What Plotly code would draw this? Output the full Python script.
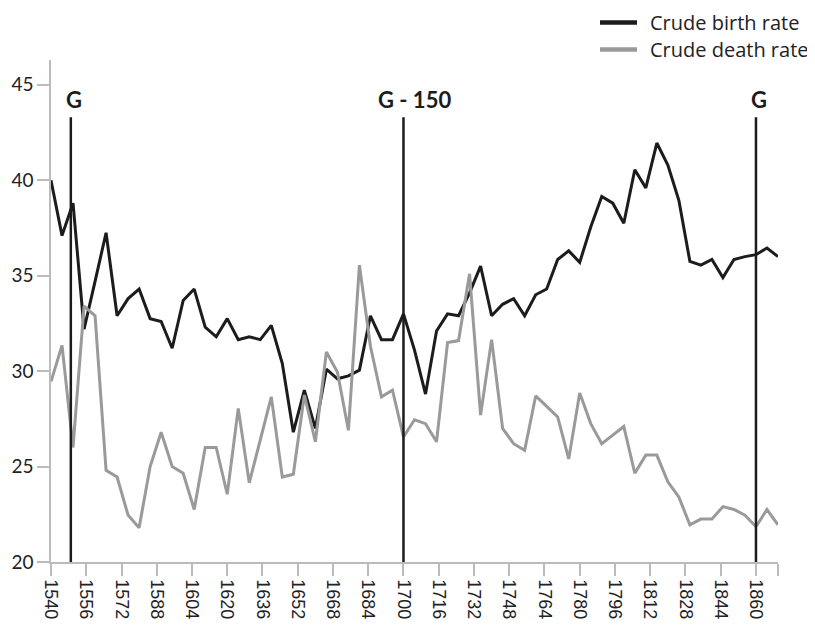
import plotly.graph_objects as go

# Years (5-year intervals)
years = list(range(1540, 1871, 5))

crude_birth_rate = [
    40.0, 37.1, 38.8, 32.2, 34.7, 37.25, 32.9, 33.8, 34.3, 32.75, 32.6, 31.2, 33.7, 34.3,
    32.3, 31.8, 32.75, 31.65, 31.8, 31.65, 32.4,
    30.4, 26.8, 29.0, 27.0, 30.1, 29.6, 29.75, 30.05, 32.9, 31.65, 31.65, 33.0,
    31.1, 28.8, 32.1, 33.0, 32.9, 34.1, 35.5, 32.9, 33.5, 33.8,
    32.9, 34.0, 34.3, 35.85, 36.3, 35.7, 37.55, 39.15, 38.8, 37.75, 40.55, 39.6, 41.95,
    40.8, 38.95, 35.75, 35.55, 35.85, 34.9, 35.85, 36.0, 36.1, 36.45, 36.0,
]

crude_death_rate = [
    29.45, 31.35, 26.0, 33.4, 32.9, 24.8, 24.45, 22.45, 21.8, 25.0, 26.8, 25.0, 24.65, 22.75,
    26.0, 26.0, 23.55, 28.05, 24.15, 26.4, 28.65,
    24.45, 24.6, 28.75, 26.3, 31.0, 29.95, 26.9, 35.55, 31.3, 28.65, 29.0, 26.55,
    27.45, 27.25, 26.3, 31.5, 31.6, 35.1, 27.7, 31.65, 27.0, 26.2,
    25.85, 28.7, 28.15, 27.6, 25.4, 28.85, 27.25, 26.2, 26.65, 27.1, 24.65, 25.6, 25.6,
    24.2, 23.4, 21.95, 22.25, 22.25, 22.9, 22.75, 22.45, 21.85, 22.75, 21.95,
]

series_names = ["Crude birth rate", "Crude death rate"]
series_colors = ["#1c1c1c", "#9a9a9a"]

# Marker lines
marker_years = [1549, 1700, 1860]
marker_labels = ["G", "G - 150", "G"]
marker_top = 43.3
label_y = 44.25

# Axis ticks
x_tickvals = list(range(1540, 1861, 16)) + [1870]
x_ticktext = [str(v) for v in range(1540, 1861, 16)] + [""]
y_tickvals = [20, 25, 30, 35, 40, 45]

# Figure geometry (pixels)
W, H = 807, 625
ML, MR, MT, MB = 43, 37, 52, 71
PW, PH = W - ML - MR, H - MT - MB


def px_to_paper_x(px):
    return (px - ML) / PW


def px_to_paper_y(py):
    return (H - MB - py) / PH


fig = go.Figure()
for vals, name, col in zip([crude_birth_rate, crude_death_rate], series_names, series_colors):
    fig.add_trace(go.Scatter(x=years, y=vals, mode="lines", name=name, showlegend=False,
                             line=dict(color=col, width=3)))

for yr, lab in zip(marker_years, marker_labels):
    fig.add_shape(type="line", xref="x", yref="y", x0=yr, x1=yr, y0=20, y1=marker_top,
                  line=dict(color="#1c1c1c", width=2.5), layer="above")
    fig.add_annotation(x=yr, y=label_y, xref="x", yref="y", text=lab, showarrow=False,
                       xshift=3 if lab == "G" else 11,
                       font=dict(family="Lato", size=22, color="#1c1c1c", weight="bold"))

# Legend (top right), drawn with shapes + text
legend_row_y = [14.5, 41.5]
for name, col, ry in zip(series_names, series_colors, legend_row_y):
    yp = px_to_paper_y(ry)
    fig.add_shape(type="line", xref="paper", yref="paper",
                  x0=px_to_paper_x(592), x1=px_to_paper_x(629), y0=yp, y1=yp,
                  line=dict(color=col, width=4.5))
    fig.add_annotation(x=px_to_paper_x(640), y=yp, xref="paper", yref="paper",
                       text=name, showarrow=False, xanchor="left", yanchor="middle",
                       font=dict(family="Open Sans", size=20, color="#222"))

fig.update_layout(
    width=W, height=H,
    margin=dict(l=ML, r=MR, t=MT, b=MB, autoexpand=False),
    paper_bgcolor="white", plot_bgcolor="white",
    showlegend=False,
    xaxis=dict(range=[1540, 1870], tickmode="array", tickvals=x_tickvals, ticktext=x_ticktext,
               tickangle=90, ticks="outside", ticklen=12, tickcolor="#bbbbbb", tickwidth=1.5,
               showline=True, linecolor="#bbbbbb", linewidth=1.5,
               showgrid=False, zeroline=False,
               tickfont=dict(family="Liberation Sans", size=18, color="#222")),
    yaxis=dict(range=[20, 46.3], tickmode="array", tickvals=y_tickvals,
               ticks="outside", ticklen=12, tickcolor="#bbbbbb", tickwidth=1.5,
               showline=True, linecolor="#bbbbbb", linewidth=1.5,
               showgrid=False, zeroline=False,
               tickfont=dict(family="Lato", size=19, color="#222")),
)

fig.write_html("out.html")
